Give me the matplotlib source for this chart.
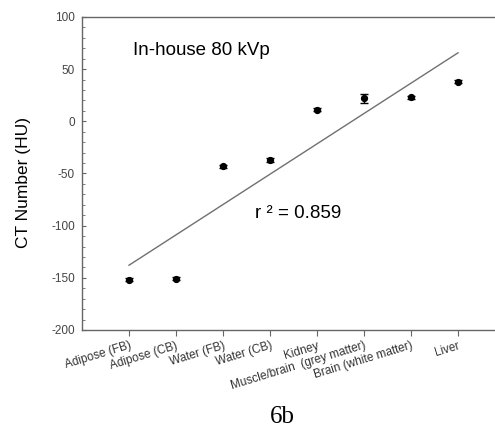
import numpy as np
import matplotlib
matplotlib.use("Agg")
import matplotlib.pyplot as plt
from matplotlib.ticker import MultipleLocator

categories = ["Adipose (FB)", "Adipose (CB)", "Water (FB)", "Water (CB)", "Kidney",
              "Muscle/brain  (grey matter)", "Brain (white matter)", "Liver"]
ct_values = [-152, -151, -43, -37, 11, 22, 23, 38]
ct_errors = [1.5, 1.5, 1.5, 1.5, 1.5, 4, 1.5, 1.5]
y_ticks = [-200, -150, -100, -50, 0, 50, 100]

plt.rcParams['font.family'] = ['Liberation Sans', 'DejaVu Sans']
plt.rcParams['axes.unicode_minus'] = False

fig = plt.figure(figsize=(4.95, 4.29), dpi=100)
ax = fig.add_axes([82/495, 99/429, 423/495, 313/429])

x = np.arange(1, len(categories) + 1)
ax.errorbar(x, ct_values, yerr=ct_errors, fmt='o', color='black', ms=4.2,
            capsize=3, elinewidth=1, capthick=1, zorder=3)

slope, intercept = np.polyfit(x, ct_values, 1)
xl = np.array([x[0], x[-1]])
ax.plot(xl, slope * xl + intercept, color='#707070', lw=1)

ax.set_xlim(0, 9)
ax.set_ylim(-200, 100)
ax.set_yticks(y_ticks)
ax.yaxis.set_minor_locator(MultipleLocator(10))
ax.set_xticks(x)
ax.set_xticklabels(categories, rotation=17, ha='right', rotation_mode='anchor',
                   fontsize=8.5, color='#333333')
ax.tick_params(axis='y', which='both', direction='in', labelsize=8.5,
               labelcolor='#444444', color='#666666')
ax.tick_params(axis='y', which='major', length=3, pad=5)
ax.tick_params(axis='y', which='minor', length=2.5)
ax.tick_params(axis='x', direction='out', length=4, color='#666666', pad=3)
for s in ax.spines.values():
    s.set_color('#666666')
    s.set_linewidth(1)

ax.set_ylabel("CT Number (HU)", fontsize=12.5)
ax.yaxis.set_label_coords(-0.12, 0.47)
ax.text(1.09, 68, "In-house 80 kVp", fontsize=13.5, va='center', ha='left')
ax.text(3.68, -88, "r ² = 0.859", fontsize=13.5, va='center', ha='left')
fig.text(282/495, 1 - 417/429, "6b", fontsize=18, family=['Liberation Serif', 'DejaVu Serif'],
         ha='center', va='center')

fig.savefig("out.png", dpi=100)
